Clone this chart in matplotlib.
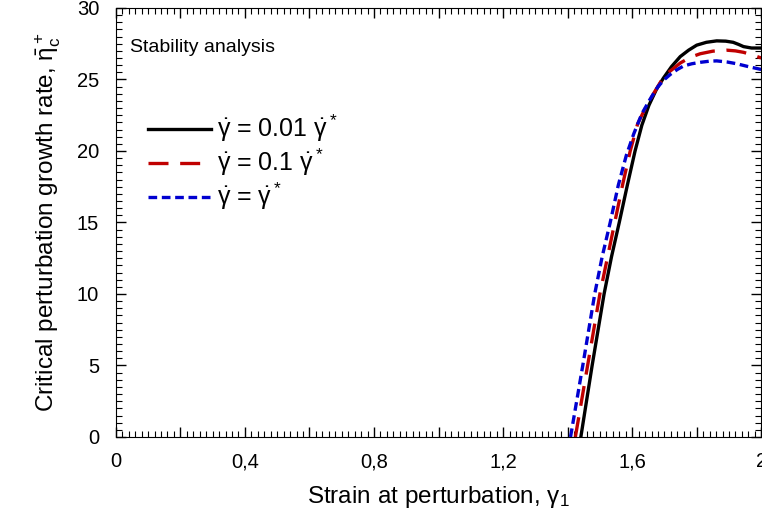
import matplotlib
matplotlib.use("Agg")
import matplotlib.pyplot as plt
from matplotlib.ticker import MultipleLocator, FuncFormatter

plt.rcParams['font.family'] = ['Liberation Sans', 'DejaVu Sans']
plt.rcParams['mathtext.fontset'] = 'custom'
plt.rcParams['mathtext.rm'] = 'Liberation Sans'
plt.rcParams['mathtext.it'] = 'Liberation Sans:italic'
plt.rcParams['mathtext.bf'] = 'Liberation Sans:bold'

# strain at perturbation vs critical growth rate
x_slow = [1.441, 1.476, 1.513, 1.536, 1.560, 1.585, 1.609, 1.630, 1.652, 1.675, 1.697,
          1.722, 1.749, 1.775, 1.800, 1.830, 1.862, 1.890, 1.913, 1.930, 1.945, 1.970, 2.0]
y_slow = [0.0, 5.0, 10.0, 12.6, 15.0, 17.6, 20.0, 21.8, 23.2, 24.3, 25.1,
          25.9, 26.6, 27.05, 27.4, 27.6, 27.7, 27.68, 27.6, 27.45, 27.3, 27.2, 27.2]

x_mid = [1.424, 1.462, 1.500, 1.523, 1.546, 1.570, 1.594, 1.617, 1.641, 1.666, 1.690,
         1.707, 1.730, 1.749, 1.780, 1.811, 1.850, 1.893, 1.920, 1.945, 1.975, 2.0]
y_mid = [0.0, 5.0, 10.0, 12.5, 15.0, 17.6, 20.0, 21.9, 23.0, 24.0, 24.9,
         25.4, 25.8, 26.15, 26.55, 26.8, 26.98, 27.05, 27.0, 26.9, 26.7, 26.5]

x_fast = [1.409, 1.447, 1.484, 1.507, 1.532, 1.557, 1.582, 1.605, 1.630, 1.655, 1.680, 1.700,
          1.718, 1.740, 1.760, 1.785, 1.811, 1.840, 1.862, 1.895, 1.924, 1.960, 2.0]
y_fast = [0.0, 5.0, 10.0, 12.6, 15.0, 17.6, 19.7, 21.2, 22.6, 23.6, 24.5, 25.0,
          25.35, 25.7, 25.95, 26.1, 26.2, 26.28, 26.3, 26.22, 26.1, 25.9, 25.7]

labels = [r'$\mathrm{\dot{\gamma}}$ = 0.01 $\mathrm{\dot{\gamma}^*}$',
          r'$\mathrm{\dot{\gamma}}$ = 0.1 $\mathrm{\dot{\gamma}^*}$',
          r'$\mathrm{\dot{\gamma}}$ = $\mathrm{\dot{\gamma}^*}$']

fig = plt.figure(figsize=(7.62, 5.15), dpi=100)
ax = fig.add_axes([0.152, 0.1515, 0.847, 0.833])

ax.plot(x_slow, y_slow, color='black', lw=2.4, label=labels[0])
ax.plot(x_mid, y_mid, color='#c00000', lw=2.4, dashes=(6, 3.5), label=labels[1])
ax.plot(x_fast, y_fast, color='#0000d0', lw=2.4, dashes=(2.6, 1.4), label=labels[2])

ax.set_xlim(0, 2)
ax.set_ylim(0, 30)

ax.xaxis.set_major_locator(MultipleLocator(0.2))
ax.xaxis.set_minor_locator(MultipleLocator(0.02))
ax.yaxis.set_major_locator(MultipleLocator(5))
ax.yaxis.set_minor_locator(MultipleLocator(0.5))

def xfmt(v, pos):
    k = int(round(v / 0.2))
    if k % 2:
        return ''
    s = ('%.1f' % v).rstrip('0').rstrip('.')
    return s.replace('.', ',')

ax.xaxis.set_major_formatter(FuncFormatter(xfmt))
ax.tick_params(which='both', direction='in', top=True, right=True, labelsize=14.5)
ax.tick_params(which='major', length=7, width=1)
ax.tick_params(which='minor', length=4, width=0.8)
ax.tick_params(axis='x', pad=11)
ax.tick_params(axis='y', pad=12)

ax.set_xlabel(r'Strain at perturbation, $\mathrm{\gamma_1}$', fontsize=17.5, labelpad=9)
ax.set_ylabel(r'Critical perturbation growth rate, $\mathrm{\bar{\eta}_c^+}$', fontsize=17.5, labelpad=10)

ax.text(0.045, 26.9, 'Stability analysis', fontsize=14)

ax.legend(loc='upper left', bbox_to_anchor=(0.05, 0.755), frameon=False, fontsize=18,
          handlelength=2.5, handletextpad=0.25, labelspacing=0.1, borderpad=0,
          borderaxespad=0)

plt.savefig('out.png', dpi=100)
